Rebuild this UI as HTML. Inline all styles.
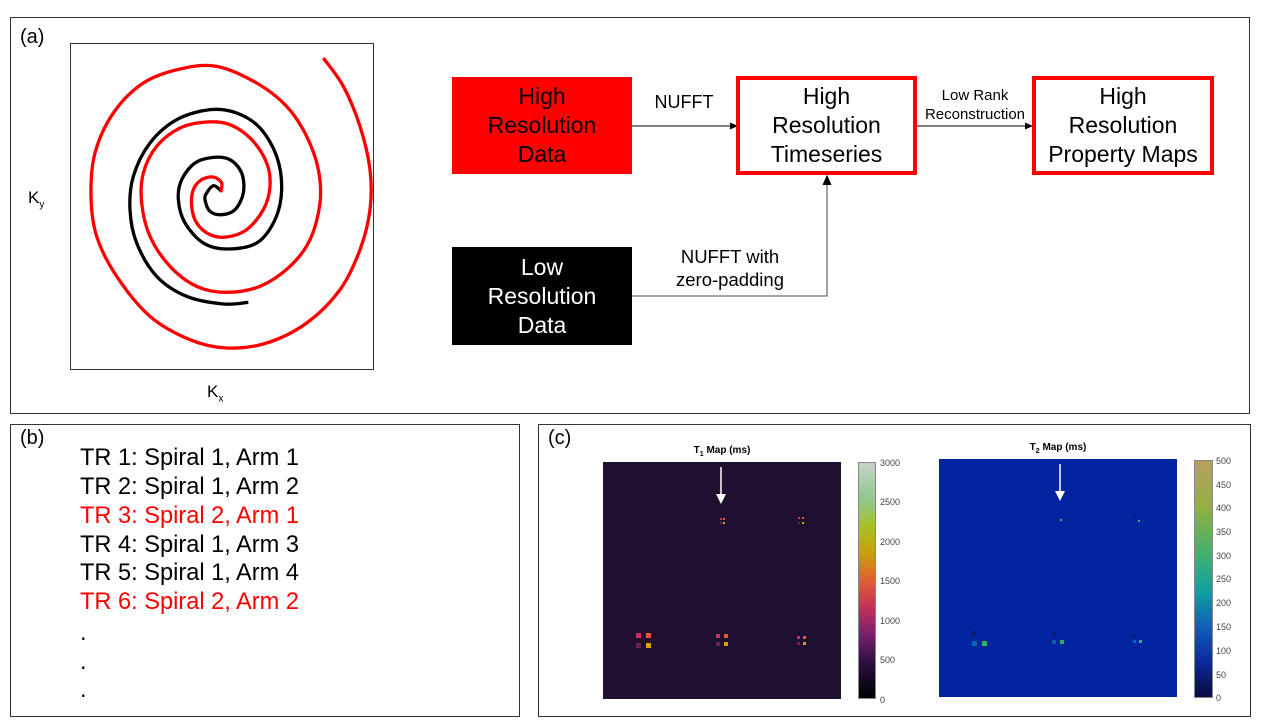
<!DOCTYPE html>
<html><head><meta charset="utf-8"><style>
body{margin:0;width:1280px;height:720px;background:#fff;font-family:"Liberation Sans",sans-serif;position:relative;overflow:hidden}
.a{position:absolute}
.panel{position:absolute;border:1px solid #333;box-sizing:border-box}
.box{position:absolute;display:flex;align-items:center;justify-content:center;text-align:center;font-size:23px;line-height:29px;box-sizing:border-box}
.lbl{position:absolute;text-align:center;white-space:nowrap}
.tl{position:absolute;font-size:23.6px;white-space:nowrap}
.tk{position:absolute;font-size:9px;color:#444}
</style></head><body>
<div class="panel" style="left:10px;top:17px;width:1240px;height:397px"></div>
<div class="panel" style="left:10px;top:424px;width:510px;height:293px"></div>
<div class="panel" style="left:538px;top:424px;width:713px;height:293px"></div>
<div class="a" style="left:20px;top:26px;font-size:20px">(a)</div>
<div class="a" style="left:20px;top:427px;font-size:20px">(b)</div>
<div class="a" style="left:548px;top:427px;font-size:20px">(c)</div>

<div class="a" style="left:70px;top:43px;width:304px;height:327px;border:1px solid #333;box-sizing:border-box"></div>
<svg class="a" style="left:0;top:0" width="1280" height="720">
<path id="blk" fill="none" stroke="#000" stroke-width="3.3"/>
<path id="red" fill="none" stroke="#f00" stroke-width="3.3"/>
<defs><marker id="ar" markerWidth="8" markerHeight="8" refX="7" refY="4" orient="auto"><path d="M0,0.5 L8,4 L0,7.5z" fill="#000"/></marker></defs>
<line x1="632" y1="126" x2="737" y2="126" stroke="#000" stroke-width="1" marker-end="url(#ar)"/>
<line x1="917" y1="126" x2="1032" y2="126" stroke="#000" stroke-width="1" marker-end="url(#ar)"/>
<polyline points="632,296 827,296 827,176" fill="none" stroke="#707070" stroke-width="1.3" marker-end="url(#ar)"/>
</svg>
<div class="lbl" style="left:28px;top:188px;font-size:17px">K<sub style="font-size:10px">y</sub></div>
<div class="lbl" style="left:207px;top:382px;font-size:17px">K<sub style="font-size:10px">x</sub></div>

<div class="box" style="left:452px;top:77px;width:180px;height:97px;background:#f00;color:#000">High<br>Resolution<br>Data</div>
<div class="box" style="left:452px;top:247px;width:180px;height:98px;background:#000;color:#fff">Low<br>Resolution<br>Data</div>
<div class="box" style="left:736px;top:76px;width:181px;height:99px;border:4px solid #f00">High<br>Resolution<br>Timeseries</div>
<div class="box" style="left:1032px;top:76px;width:182px;height:99px;border:4px solid #f00">High<br>Resolution<br>Property Maps</div>
<div class="lbl" style="left:634px;top:92px;width:100px;font-size:18px">NUFFT</div>
<div class="lbl" style="left:915px;top:86px;width:120px;font-size:15px;line-height:19px">Low Rank<br>Reconstruction</div>
<div class="lbl" style="left:650px;top:245px;width:160px;font-size:18.5px;line-height:23px">NUFFT with<br>zero-padding</div>

<div class="tl" style="left:80px;top:445px">TR 1: Spiral 1, Arm 1</div>
<div class="tl" style="left:80px;top:474px">TR 2: Spiral 1, Arm 2</div>
<div class="tl" style="left:80px;top:503px;color:#f00">TR 3: Spiral 2, Arm 1</div>
<div class="tl" style="left:80px;top:532px">TR 4: Spiral 1, Arm 3</div>
<div class="tl" style="left:80px;top:560px">TR 5: Spiral 1, Arm 4</div>
<div class="tl" style="left:80px;top:589px;color:#f00">TR 6: Spiral 2, Arm 2</div>
<div class="tl" style="left:80px;top:620px">.</div>
<div class="tl" style="left:80px;top:649px">.</div>
<div class="tl" style="left:80px;top:677px">.</div>

<div class="lbl" style="left:682px;top:445px;width:80px;font-size:10px;font-weight:bold">T<sub style="font-size:7px">1</sub> Map (ms)</div>
<div class="a" style="left:603px;top:462px;width:238px;height:237px;background:#1e102e"></div>
<div class="a" style="left:858px;top:462px;width:18px;height:237px;border:1px solid #888;box-sizing:border-box;background:linear-gradient(to top,#000 0%,#2a1040 15%,#7a1f6e 27%,#c0305a 38%,#e06030 50%,#c8a010 62%,#a8c020 72%,#90c890 85%,#c8d0c8 100%)"></div>
<div class="tk" style="left:880px;top:458px">3000</div><div class="tk" style="left:880px;top:497px">2500</div><div class="tk" style="left:880px;top:537px">2000</div><div class="tk" style="left:880px;top:576px">1500</div><div class="tk" style="left:880px;top:616px">1000</div><div class="tk" style="left:880px;top:655px">500</div><div class="tk" style="left:880px;top:695px">0</div>
<div class="lbl" style="left:1018px;top:442px;width:80px;font-size:10px;font-weight:bold">T<sub style="font-size:7px">2</sub> Map (ms)</div>
<div class="a" style="left:939px;top:459px;width:238px;height:238px;background:#0224a0"></div>
<div class="a" style="left:1194px;top:460px;width:19px;height:238px;border:1px solid #888;box-sizing:border-box;background:linear-gradient(to top,#0a0a40 0%,#0c2aa0 15%,#1060b8 30%,#10a0a0 45%,#40b070 60%,#90b040 80%,#b8a060 100%)"></div>
<div class="tk" style="left:1216px;top:456px">500</div><div class="tk" style="left:1216px;top:503px">400</div><div class="tk" style="left:1216px;top:551px">300</div><div class="tk" style="left:1216px;top:598px">200</div><div class="tk" style="left:1216px;top:646px">100</div><div class="tk" style="left:1216px;top:693px">0</div>
<div class="tk" style="left:1216px;top:480px">450</div><div class="tk" style="left:1216px;top:527px">350</div><div class="tk" style="left:1216px;top:574px">250</div><div class="tk" style="left:1216px;top:622px">150</div><div class="tk" style="left:1216px;top:670px">50</div>

<svg class="a" style="left:0;top:0" width="1280" height="720">
<g stroke="#fff" stroke-width="1.5"><line x1="721" y1="467" x2="721" y2="498"/><line x1="1060" y1="464" x2="1060" y2="495"/></g>
<path d="M716,494 L726,494 L721,504z" fill="#fff"/><path d="M1055,491 L1065,491 L1060,501z" fill="#fff"/>
<g>
<rect x="636" y="633" width="5" height="5" fill="#c0306a"/><rect x="646" y="633" width="5" height="5" fill="#e05a30"/>
<rect x="636" y="643" width="5" height="5" fill="#6a2060"/><rect x="646" y="643" width="5" height="5" fill="#d8a010"/>
<rect x="716" y="634" width="4" height="4" fill="#c0306a"/><rect x="724" y="634" width="4" height="4" fill="#e05a30"/>
<rect x="716" y="642" width="4" height="4" fill="#6a2060"/><rect x="724" y="642" width="4" height="4" fill="#d8a010"/>
<rect x="797" y="636" width="3" height="3" fill="#c0306a"/><rect x="803" y="636" width="3" height="3" fill="#e05a30"/>
<rect x="797" y="642" width="3" height="3" fill="#6a2060"/><rect x="803" y="642" width="3" height="3" fill="#d8a010"/>
<rect x="720" y="518" width="2" height="2" fill="#c0306a"/><rect x="723" y="518" width="2" height="2" fill="#e05a30"/><rect x="720" y="522" width="2" height="2" fill="#6a2060"/><rect x="723" y="522" width="2" height="2" fill="#d8a010"/>
<rect x="798" y="517" width="2" height="2" fill="#c0306a"/><rect x="802" y="517" width="2" height="2" fill="#e05a30"/><rect x="798" y="522" width="2" height="2" fill="#6a2060"/><rect x="802" y="522" width="2" height="2" fill="#d8a010"/>
<rect x="971" y="631" width="5" height="5" fill="#0a1a70"/><rect x="972" y="641" width="5" height="5" fill="#1060b0"/><rect x="982" y="641" width="5" height="5" fill="#30b070"/>
<rect x="1052" y="632" width="4" height="4" fill="#0a1a70"/><rect x="1052" y="640" width="4" height="4" fill="#1060b0"/><rect x="1060" y="640" width="4" height="4" fill="#30b070"/>
<rect x="1133" y="634" width="3" height="3" fill="#0a1a70"/><rect x="1133" y="640" width="3" height="3" fill="#1060b0"/><rect x="1139" y="640" width="3" height="3" fill="#30b070"/>
<rect x="1060" y="519" width="2" height="2" fill="#30b070"/><rect x="1138" y="520" width="2" height="2" fill="#30b070"/><rect x="1134" y="516" width="2" height="2" fill="#0a1a70"/>
</g></svg>
<script>
function path(p){p=p.map(q=>[q[0]/3+70,q[1]/3+43]);let d="M"+p[0][0]+","+p[0][1];
for(let i=0;i<p.length-1;i++){let p0=p[Math.max(i-1,0)],p1=p[i],p2=p[i+1],p3=p[Math.min(i+2,p.length-1)];
d+=" C"+(p1[0]+(p2[0]-p0[0])/6)+","+(p1[1]+(p2[1]-p0[1])/6)+" "+(p2[0]-(p3[0]-p1[0])/6)+","+(p2[1]-(p3[1]-p1[1])/6)+" "+p2[0]+","+p2[1];}return d;}
var b=[[450,440],[430,428],[410,450],[405,470],[420,505],[455,515],[495,500],[520,450],[515,390],[480,350],[430,343],[375,360],[335,410],[325,470],[345,540],[400,600],[470,618],[560,600],[615,530],[635,440],[620,340],[570,255],[500,210],[420,200],[320,230],[240,300],[190,400],[180,500],[200,600],[260,700],[350,760],[460,783],[535,778]];
var r=[[452,448],[455,420],[430,402],[395,410],[370,440],[365,490],[380,540],[420,575],[470,582],[530,560],[580,500],[600,430],[590,360],[545,290],[480,245],[410,237],[330,255],[260,310],[220,390],[215,480],[240,580],[300,670],[380,730],[470,748],[570,730],[660,670],[720,590],[750,480],[745,380],[710,280],[650,190],[560,120],[440,70],[330,78],[220,120],[130,210],[75,330],[63,460],[80,580],[140,700],[240,820],[360,890],[470,915],[590,900],[710,840],[810,740],[870,620],[900,500],[900,380],[870,250],[820,130],[760,45]];
document.getElementById("blk").setAttribute("d",path(b));
document.getElementById("red").setAttribute("d",path(r));
</script>
</body></html>
